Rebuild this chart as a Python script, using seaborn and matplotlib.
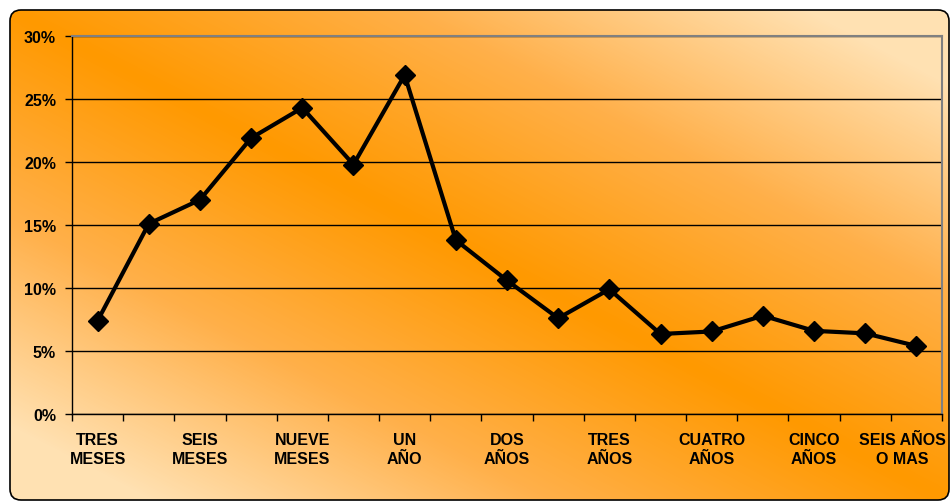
import numpy as np
import pandas as pd
import matplotlib
matplotlib.use("Agg")
import matplotlib.pyplot as plt
import matplotlib.transforms as mtransforms
import seaborn as sns
from matplotlib.patches import FancyBboxPatch
from matplotlib.colors import LinearSegmentedColormap
from matplotlib.ticker import FuncFormatter

# Tiempo transcurrido y porcentaje correspondiente
periodos = list(range(17))
porcentajes = [7.4, 15.1, 17.0, 21.9, 24.3, 19.8, 26.9, 13.8, 10.6,
               7.6, 9.9, 6.35, 6.55, 7.8, 6.6, 6.4, 5.4]
etiquetas = ["TRES\nMESES", "SEIS\nMESES", "NUEVE\nMESES", "UN\nAÑO",
             "DOS\nAÑOS", "TRES\nAÑOS", "CUATRO\nAÑOS", "CINCO\nAÑOS",
             "SEIS AÑOS\nO MAS"]
posiciones_etiquetas = list(range(0, 17, 2))
marcas_y = [0, 5, 10, 15, 20, 25, 30]

df = pd.DataFrame({"periodo": periodos, "porcentaje": porcentajes})

sns.set_theme(style="ticks")
plt.rcParams["font.family"] = ["Liberation Sans", "DejaVu Sans"]
plt.rcParams["font.weight"] = "bold"

W, H = 950, 502
fig = plt.figure(figsize=(W / 100, H / 100), dpi=100)
fig.patch.set_facecolor("white")

# Fondo con degradado diagonal dentro de un marco redondeado
bg = fig.add_axes([0, 0, 1, 1])
bg.set_axis_off()
bg.set_xlim(0, W)
bg.set_ylim(H, 0)
x0, y0, x1, y1 = 10, 11, 949, 501
gw, gh = x1 - x0, y1 - y0
yy, xx = np.mgrid[0:gh, 0:gw]
t = np.abs(xx / gw - yy / gh)
cmap = LinearSegmentedColormap.from_list("fondo", ["#FF9900", "#FFB04A", "#FFE1B2"])
im = bg.imshow(t, cmap=cmap, vmin=0, vmax=0.85, extent=(x0, x1, y1, y0),
               interpolation="bilinear", aspect="auto")
marco = FancyBboxPatch((x0, y0), gw, gh,
                       boxstyle="round,pad=0,rounding_size=11",
                       fc="none", ec="black", lw=1.2)
bg.add_patch(marco)
im.set_clip_path(marco)

# Área del gráfico
ax = fig.add_axes([72 / W, (H - 415) / H, 870 / W, 378 / H])
ax.set_facecolor("none")

sns.lineplot(data=df, x="periodo", y="porcentaje", ax=ax, color="black",
             lw=3, marker="D", markersize=10, markeredgecolor="black",
             markeredgewidth=1, zorder=3)

ax.set_xlim(-0.5, 16.5)
ax.set_ylim(0, 30)
ax.set_yticks(marcas_y)
ax.yaxis.set_major_formatter(FuncFormatter(lambda v, p: f"{v:.0f}%"))
ax.set_xticks(posiciones_etiquetas)
ax.set_xticklabels(etiquetas, linespacing=1.35)
ax.set_xticks(np.arange(-0.5, 17, 1), minor=True)
ax.set_xlabel("")
ax.set_ylabel("")

ax.tick_params(axis="x", which="major", length=0, pad=13, labelsize=11.5,
               labelcolor="black")
ax.tick_params(axis="x", which="minor", length=5, width=1, color="black",
               direction="out")
ax.tick_params(axis="y", which="major", length=5, width=1, color="black",
               direction="out", pad=6.5, labelsize=11.5, labelcolor="black")
for lab in ax.get_xticklabels() + ax.get_yticklabels():
    lab.set_fontweight("bold")

# La última etiqueta se desplaza a la izquierda para que quepa en el marco
ultima = ax.get_xticklabels()[-1]
ultima.set_transform(ultima.get_transform() +
                     mtransforms.ScaledTranslation(-0.14, 0, fig.dpi_scale_trans))

ax.yaxis.grid(True, color="black", lw=1)
ax.set_axisbelow(True)

for lado in ["left", "bottom"]:
    ax.spines[lado].set_color("black")
    ax.spines[lado].set_linewidth(1)
for lado in ["top", "right"]:
    ax.spines[lado].set_visible(True)
    ax.spines[lado].set_color("#808080")
    ax.spines[lado].set_linewidth(1.5)

fig.savefig("out.png", dpi=100, facecolor="white")
